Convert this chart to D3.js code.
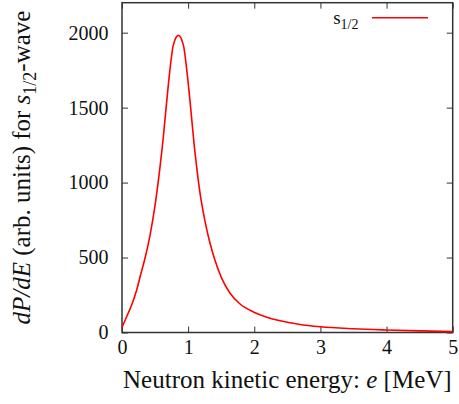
<!DOCTYPE html>
<html>
<head>
<meta charset="utf-8">
<script src="https://cdn.jsdelivr.net/npm/d3@7"></script>
<style>
  body { margin: 0; background: #fff; }
  svg { display: block; }
  svg text { font-family: 'Liberation Serif', 'Times New Roman', serif; }
</style>
</head>
<body>
<svg width="459" height="404"></svg>
<script>
// Neutron energy spectrum, s1/2 wave
const energy = [0, 0.07, 0.146, 0.222, 0.287, 0.348, 0.42, 0.5, 0.575, 0.615, 0.666, 0.716, 0.776, 0.852, 0.928, 0.988, 1.039, 1.089, 1.13, 1.18, 1.256, 1.331, 1.407, 1.508, 1.634, 1.785, 1.987, 2.19, 2.39, 2.67, 3.0, 3.5, 4.0, 4.5, 5.0];
const dpde = [33, 105, 183, 283, 395, 495, 640, 850, 1105, 1261, 1495, 1717, 1917, 1982, 1917, 1717, 1495, 1261, 1100, 930, 740, 595, 480, 361, 262, 190, 137, 102, 78, 55, 38, 25, 17, 11, 6];
const xTicks = [0, 1, 2, 3, 4, 5];
const yTicks = [0, 500, 1000, 1500, 2000];
const seriesName = 's';
const seriesSub = '1/2';

const svg = d3.select('svg');
const margin = { top: 2.7, right: 6.3, bottom: 71.5, left: 122 };
const width = 459, height = 404;
const innerWidth = width - margin.left - margin.right;
const innerHeight = height - margin.top - margin.bottom;

const data = energy.map((e, i) => ({ e, v: dpde[i] }));

const x = d3.scaleLinear().domain([0, 5]).range([0, innerWidth]);
const y = d3.scaleLinear().domain([0, 2200]).range([innerHeight, 0]);

const g = svg.append('g').attr('transform', `translate(${margin.left},${margin.top})`);

const axisColor = '#333';
const tickLen = 6;
const fmt = d3.format('d');

// ticks on all four sides, pointing inward
const styleAxis = sel => {
    sel.attr('font-family', null).attr('font-size', null);
    sel.select('.domain').remove();
    sel.selectAll('.tick line').attr('stroke', axisColor).attr('stroke-width', 1);
    sel.selectAll('.tick text').attr('fill', '#111').style('font-size', '20px');
};
// mirrored axes: ticks only, no labels
const bareAxis = sel => {
    styleAxis(sel);
    sel.selectAll('.tick text').remove();
};

g.append('g')
    .attr('transform', `translate(0,${innerHeight})`)
    .call(d3.axisBottom(x).tickValues(xTicks).tickFormat(fmt).tickSize(-tickLen).tickPadding(7))
    .call(styleAxis);

g.append('g')
    .call(d3.axisTop(x).tickValues(xTicks).tickSize(-tickLen))
    .call(bareAxis);

g.append('g')
    .call(d3.axisLeft(y).tickValues(yTicks).tickFormat(fmt).tickSize(-tickLen).tickPadding(13.5))
    .call(styleAxis);

g.append('g')
    .attr('transform', `translate(${innerWidth},0)`)
    .call(d3.axisRight(y).tickValues(yTicks).tickSize(-tickLen))
    .call(bareAxis);

// frame
g.append('rect')
    .attr('width', innerWidth)
    .attr('height', innerHeight)
    .attr('fill', 'none')
    .attr('stroke', axisColor)
    .attr('stroke-width', 1.5);

// curve
const line = d3.line()
    .x(d => x(d.e))
    .y(d => y(d.v))
    .curve(d3.curveMonotoneX);

g.append('path')
    .datum(data)
    .attr('d', line)
    .attr('fill', 'none')
    .attr('stroke', '#ff0000')
    .attr('stroke-width', 1.6);

// legend
const legend = svg.append('g');
const legText = legend.append('text')
    .attr('x', 358.5)
    .attr('y', 24)
    .attr('text-anchor', 'end')
    .style('font-size', '19px')
    .attr('fill', '#111');
legText.append('tspan').text(seriesName);
legText.append('tspan').attr('dy', 4.5).style('font-size', '14px').text(seriesSub);
legend.append('line')
    .attr('x1', 372).attr('x2', 428)
    .attr('y1', 17.7).attr('y2', 17.7)
    .attr('stroke', '#ff0000')
    .attr('stroke-width', 1.6);

// x axis title
const xTitle = svg.append('text')
    .attr('x', margin.left + innerWidth / 2)
    .attr('y', 388)
    .attr('text-anchor', 'middle')
    .style('font-size', '25px')
    .attr('fill', '#111');
xTitle.append('tspan').text('Neutron kinetic energy: ');
xTitle.append('tspan').style('font-style', 'italic').text('e');
xTitle.append('tspan').text(' [MeV]');

// y axis title
const yTitle = svg.append('text')
    .attr('transform', `translate(30,${167.5}) rotate(-90)`)
    .attr('text-anchor', 'middle')
    .style('font-size', '25px')
    .attr('fill', '#111');
yTitle.append('tspan').style('font-style', 'italic').text('dP/dE');
yTitle.append('tspan').text(' (arb. units) for ');
yTitle.append('tspan').style('font-style', 'italic').text('s');
yTitle.append('tspan').attr('dy', 6).style('font-size', '18px').text('1/2');
yTitle.append('tspan').attr('dy', -6).text('-wave');
</script>
</body>
</html>
